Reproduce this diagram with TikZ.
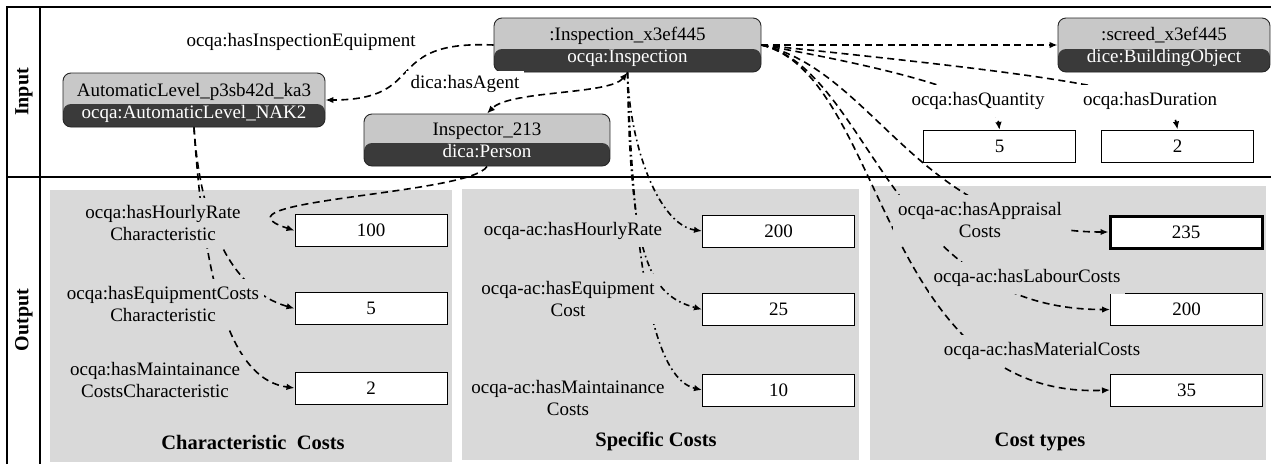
\documentclass[tikz,border=0pt]{standalone}
\usepackage{fontspec}
\setmainfont{Liberation Serif}
\usetikzlibrary{arrows.meta,calc}

\definecolor{objtop}{HTML}{C8C8C8}
\definecolor{objbot}{HTML}{3A3A3A}
\definecolor{panelfill}{HTML}{D9D9D9}

\tikzset{
  obj/.style={draw=black!85, line width=0.9pt, rounded corners=8pt, inner sep=0pt,
    path picture={
      \fill[objtop] (path picture bounding box.north west) rectangle (path picture bounding box.south east);
      \fill[objbot] (path picture bounding box.south west) rectangle ([yshift=23pt]path picture bounding box.south east);
    }},
  objtxt/.style={anchor=base, inner sep=0pt},
  objtxtw/.style={objtxt, text=white},
  valbox/.style={draw, fill=white, line width=1pt, minimum width=152pt, minimum height=32pt, inner sep=0pt},
  lbl/.style={fill=panelfill, inner xsep=5pt, inner ysep=7pt, align=center},
  lblw/.style={lbl, fill=white},
  paneltitle/.style={font=\fontsize{20.5}{24}\selectfont\bfseries},
  sidetitle/.style={font=\fontsize{20}{24}\selectfont\bfseries, rotate=90},
  tipend/.tip={Latex[length=8pt,width=6.5pt]},
  link/.style={line width=1.6pt, dash pattern=on 7pt off 4.5pt, -tipend},
  linkdd/.style={line width=1.6pt, dash pattern=on 6pt off 3.5pt on 1.6pt off 3.5pt, -tipend},
  frameline/.style={line width=2.4pt}
}

\begin{document}
\begin{tikzpicture}[x=1pt, y=-1pt, font=\fontsize{19}{22}\selectfont]
\useasboundingbox (0,0) rectangle (1271,464);

% output panels
\fill[panelfill] (50,190) rectangle (452,462);
\fill[panelfill] (462,189) rectangle (859,460);
\fill[panelfill] (870,186) rectangle (1266,460);

% table frame
\draw[frameline] (7,464) -- (7,7) -- (1271,7);
\draw[frameline] (40,7) -- (40,464);
\draw[frameline] (7,177) -- (1271,177);

\node[sidetitle] (sIn) at (24,92) {Input};
\node[sidetitle] (sOut) at (24,320) {Output};

% instance nodes (name on top, class below)
\node[obj, minimum width=267pt, minimum height=54pt] (insp) at (627.5,45) {};
\node[obj, minimum width=262pt, minimum height=54pt] (autol) at (194,100) {};
\node[obj, minimum width=246pt, minimum height=52pt] (inspr) at (487,140) {};
\node[obj, minimum width=212pt, minimum height=54pt] (screed) at (1164,45) {};

% value boxes
\node[valbox] (q5) at (999.5,146.5) {5};
\node[valbox] (d2) at (1177.5,146) {2};
\node[valbox] (b100) at (371,230.5) {100};
\node[valbox] (b5) at (371,308.5) {5};
\node[valbox] (b2) at (371,388) {2};
\node[valbox] (s200) at (778.5,231) {200};
\node[valbox] (s25) at (778.5,309.5) {25};
\node[valbox] (s10) at (778.5,390) {10};
\node[valbox, line width=3pt] (c235) at (1186,232) {235};
\node[valbox] (c200) at (1186.5,309.5) {200};
\node[valbox] (c35) at (1186.5,390) {35};

% input relations
\draw[link] (insp.west) .. controls (380,40) and (430,100) .. (autol.east);
\draw[link, tipend-tipend] (insp.south) .. controls (610,95) and (510,90) .. (inspr.north);
\draw[link] (insp.east) -- (screed.west);
\draw[link] (insp.east) .. controls (900,70) and (995,95) .. (q5.north);
\draw[link] (insp.east) .. controls (1050,75) and (1170,90) .. (d2.north);

% characteristic costs
\draw[link] (inspr.south) .. controls (470,195) and (200,200) .. (b100.west);
\draw[link] (autol.south) .. controls (200,220) and (230,290) .. (b5.west);
\draw[link] (autol.south) .. controls (205,300) and (235,380) .. (b2.west);

% specific costs
\draw[linkdd] (insp.south) .. controls (630,150) and (660,225) .. (s200.west);
\draw[linkdd] (insp.south) .. controls (630,260) and (650,295) .. (s25.west);
\draw[linkdd] (insp.south) .. controls (635,300) and (660,380) .. (s10.west);

% cost types
\draw[link] (insp.east) .. controls (875,70) and (920,232) .. (c235.west);
\draw[link] (insp.east) .. controls (870,70) and (890,310) .. (c200.west);
\draw[link] (insp.east) .. controls (885,75) and (880,400) .. (c35.west);

% node texts
\node[objtxt] (inspT) at (627.5,40.5) {:Inspection\_x3ef445};
\node[objtxtw] (inspB) at (627.5,62.5) {ocqa:Inspection};
\node[objtxt] (autolT) at (194,96) {AutomaticLevel\_p3sb42d\_ka3};
\node[objtxtw] (autolB) at (194,118) {ocqa:AutomaticLevel\_NAK2};
\node[objtxt] (insprT) at (487,135.5) {Inspector\_213};
\node[objtxtw] (insprB) at (487,157.5) {dica:Person};
\node[objtxt] (screedT) at (1164,40.5) {:screed\_x3ef445};
\node[objtxtw] (screedB) at (1164,62.5) {dice:BuildingObject};

% relation labels
\node[lblw] (lEquip) at (301,42) {ocqa:hasInspectionEquipment};
\node[lblw, inner ysep=4pt] (lAgent) at (465,84) {dica:hasAgent};
\node[lblw] (lQty) at (978,101) {ocqa:hasQuantity};
\node[lblw] (lDur) at (1150,101) {ocqa:hasDuration};

\node[lbl] (l1a) at (163,223) {ocqa:hasHourlyRate\\Characteristic};
\node[lbl] (l1b) at (163,304) {ocqa:hasEquipmentCosts\\Characteristic};
\node[lbl] (l1c) at (155,380) {ocqa:hasMaintainance\\CostsCharacteristic};
\node[lbl] (l2a) at (573,231) {ocqa-ac:hasHourlyRate};
\node[lbl] (l2b) at (568,299) {ocqa-ac:hasEquipment\\Cost};
\node[lbl] (l2c) at (568,398) {ocqa-ac:hasMaintainance\\Costs};
\node[lbl] (l3a) at (980,220) {ocqa-ac:hasAppraisal\\Costs};
\node[lbl] (l3b) at (1027,278) {ocqa-ac:hasLabourCosts};
\node[lbl] (l3c) at (1042,351) {ocqa-ac:hasMaterialCosts};

% panel titles
\node[paneltitle] (t1) at (253,442) {Characteristic\ \ Costs};
\node[paneltitle] (t2) at (656,441) {Specific Costs};
\node[paneltitle] (t3) at (1040,442) {Cost types};
\end{tikzpicture}
\end{document}
